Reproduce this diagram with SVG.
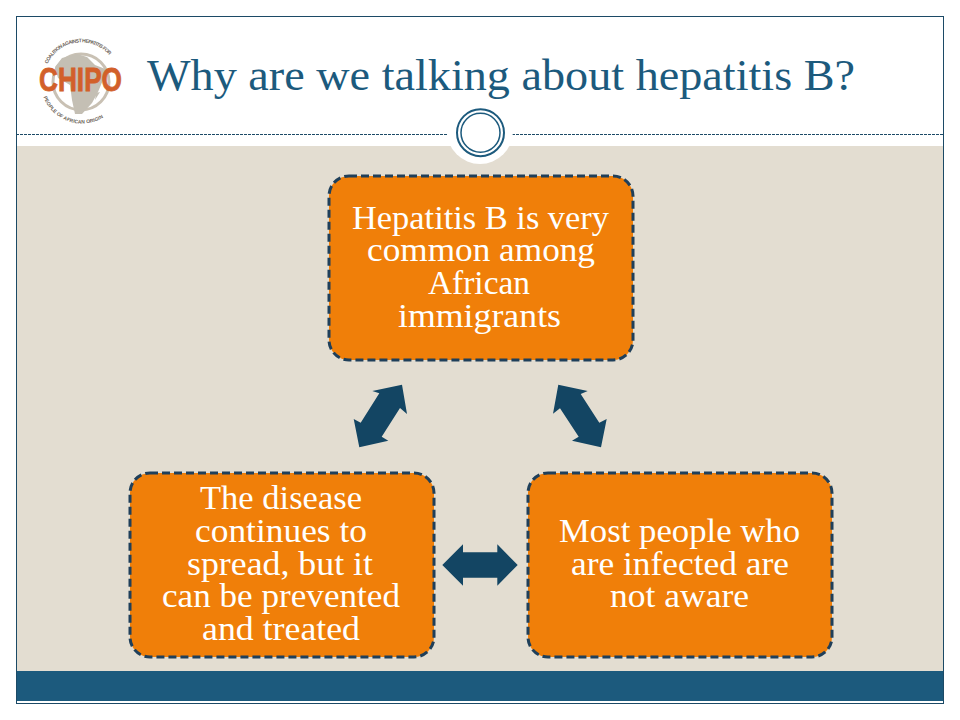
<svg xmlns="http://www.w3.org/2000/svg" width="960" height="720" viewBox="0 0 960 720">
<style>
.box{fill:#f07f09;stroke:#1f3f5a;stroke-width:3;stroke-dasharray:8 4}
.lbl{font-family:"Liberation Serif",serif;font-size:33px;fill:#fff;text-anchor:middle}
.arr{fill:#134563}
.title{font-family:"Liberation Serif",serif;font-size:44px;fill:#1c5a7d}
.lg{font-family:"Liberation Sans",sans-serif;font-weight:bold;font-size:5px;fill:#6b5f57}
</style>
<defs>
<path id="lgTop" d="M47.500 64A37 37 0 0 1 118 83"/>
<path id="lgBot" d="M43.500 97A41 41 0 0 0 118 102"/>
</defs>
<rect width="960" height="720" fill="#fff"/>
<rect x="16" y="146" width="928" height="525" fill="#e3ddd1"/>
<rect x="16" y="671" width="928" height="30" fill="#1c5a7d"/>
<rect x="16.500" y="16.500" width="927" height="687" fill="none" stroke="#1c4a66" stroke-width="1"/>
<line x1="16" y1="134.500" x2="944" y2="134.500" stroke="#1c4a66" stroke-width="1" stroke-dasharray="3 1"/>
<g id="ornament">
<circle cx="480" cy="131" r="33" fill="#fff"/>
<circle cx="480.500" cy="132.700" r="23.500" fill="#fff" stroke="#1c5a7d" stroke-width="2"/>
<circle cx="480.500" cy="132.700" r="19.500" fill="#fff" stroke="#1c5a7d" stroke-width="1.500"/>
</g>
<g id="logo">
<circle cx="81" cy="82" r="28" fill="none" stroke="#c9c1b4" stroke-width="3"/>
<path d="M62 58L77 54L87 57L95 65L108 70L103 80L98 92L92 103L82 114L75 114L72 100L70 85L58 78L55 67Z" fill="#c4bfb4"/>
<path d="M100 92L95 100L96 93Z" fill="#c4bfb4"/>
<text class="lg"><textPath href="#lgTop" textLength="74" lengthAdjust="spacing">COALITION AGAINST HEPATITIS FOR</textPath></text>
<text class="lg"><textPath href="#lgBot" textLength="72" lengthAdjust="spacing">PEOPLE OF AFRICAN ORIGIN</textPath></text>
<text x="80.500" y="91" text-anchor="middle" font-family="Liberation Sans,sans-serif" font-weight="bold" font-size="33" fill="#d2602a" stroke="#d2602a" stroke-width="0.800" textLength="83" lengthAdjust="spacingAndGlyphs">CHIPO</text>
</g>
<text id="title" class="title" x="147" y="90" textLength="708" lengthAdjust="spacingAndGlyphs">Why are we talking about hepatitis B?</text>
<g id="connectors">
<polygon class="arr" points="402,384.700 407,414 400,408 381.700,436.700 388.300,440.700 359.300,447.300 353.700,419 360.700,422.700 379.300,393.300 372.300,391"/>
<polygon class="arr" points="558.300,384.700 587.700,391 580.700,394 599.300,422.700 606.700,419 601,447.300 572,440.700 578.700,436.700 560,408.300 553,413.700"/>
<polygon class="arr" points="442.300,565 463,544.300 463,552.300 497.300,552.300 497.300,544.300 517.700,565 497.300,585.700 497.300,577.700 463,577.700 463,585.700"/>
</g>
<g id="node-top">
<rect class="box" x="329" y="176" width="304" height="184" rx="20"/>
<text class="lbl" x="480.500" y="229" textLength="257" lengthAdjust="spacingAndGlyphs">Hepatitis B is very</text>
<text class="lbl" x="481" y="261" textLength="228" lengthAdjust="spacingAndGlyphs">common among</text>
<text class="lbl" x="479" y="294" textLength="102" lengthAdjust="spacingAndGlyphs">African</text>
<text class="lbl" x="479.500" y="327" textLength="163" lengthAdjust="spacingAndGlyphs">immigrants</text>
</g>
<g id="node-left">
<rect class="box" x="130" y="473" width="304" height="184" rx="20"/>
<text class="lbl" x="281" y="509" textLength="162" lengthAdjust="spacingAndGlyphs">The disease</text>
<text class="lbl" x="281" y="542" textLength="172" lengthAdjust="spacingAndGlyphs">continues to</text>
<text class="lbl" x="280" y="575" textLength="186" lengthAdjust="spacingAndGlyphs">spread, but it</text>
<text class="lbl" x="281" y="607" textLength="238" lengthAdjust="spacingAndGlyphs">can be prevented</text>
<text class="lbl" x="281" y="640" textLength="158" lengthAdjust="spacingAndGlyphs">and treated</text>
</g>
<g id="node-right">
<rect class="box" x="528" y="473" width="304" height="184" rx="20"/>
<text class="lbl" x="679.500" y="542" textLength="241" lengthAdjust="spacingAndGlyphs">Most people who</text>
<text class="lbl" x="680" y="575" textLength="218" lengthAdjust="spacingAndGlyphs">are infected are</text>
<text class="lbl" x="679.500" y="607" textLength="139" lengthAdjust="spacingAndGlyphs">not aware</text>
</g>
</svg>
